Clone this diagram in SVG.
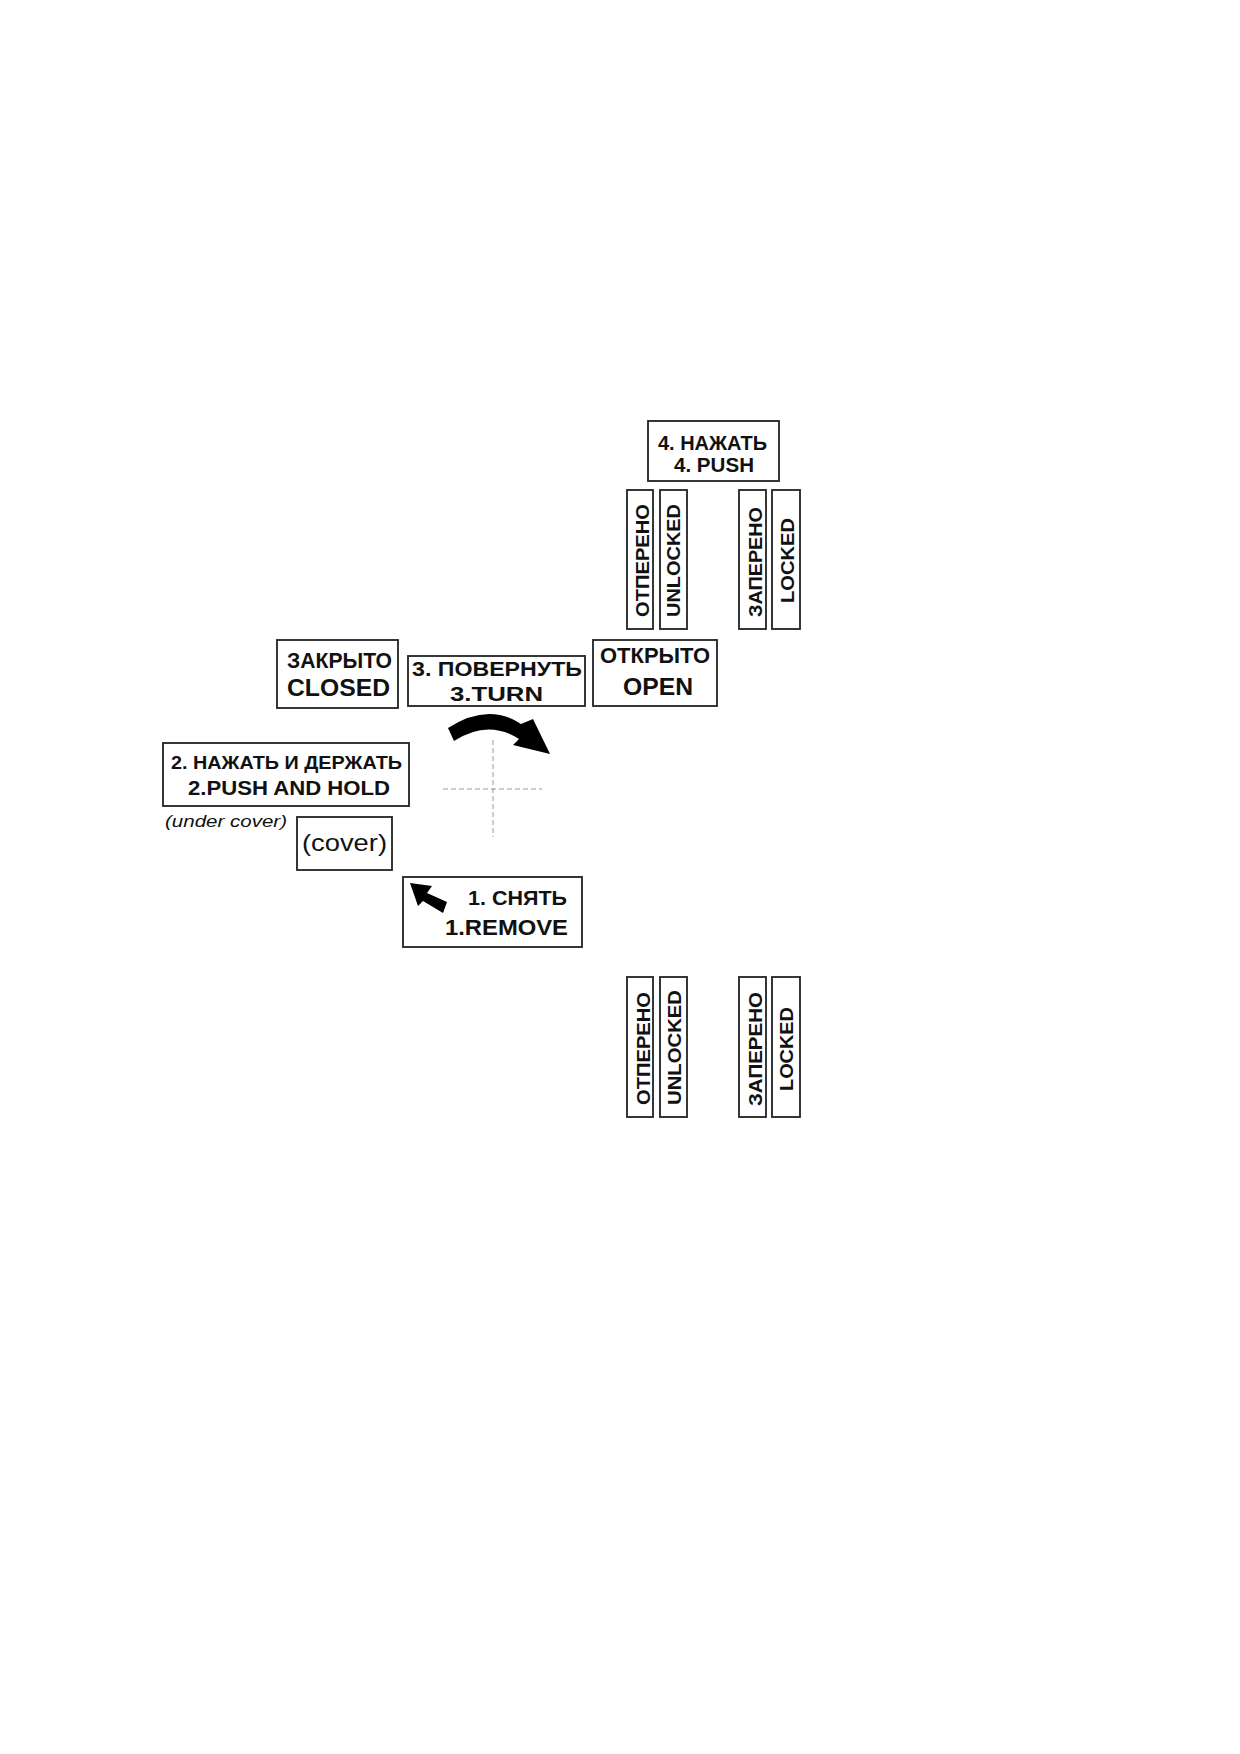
<svg xmlns="http://www.w3.org/2000/svg" width="1240" height="1754" viewBox="0 0 1240 1754">
<style>
.box{fill:#fff;stroke:#222;stroke-width:1.8}
.t{font-family:"Liberation Sans",Arial,sans-serif;font-weight:bold;fill:#111}
.r{font-family:"Liberation Sans",Arial,sans-serif;fill:#111}
.dash{stroke:#999;stroke-width:1;stroke-dasharray:5,3;fill:none}
</style>
<rect width="1240" height="1754" fill="#fff"/>
<g id="push4">
<rect class="box" x="648" y="421" width="131" height="60"/>
<text class="t" x="658" y="450" font-size="20" textLength="109" lengthAdjust="spacingAndGlyphs">4. НАЖАТЬ</text>
<text class="t" x="674" y="472" font-size="20" textLength="80" lengthAdjust="spacingAndGlyphs">4. PUSH</text>
</g>
<g id="top-unlocked-ru">
<rect class="box" x="627" y="490" width="26" height="139"/>
<text class="t" transform="translate(649,617) rotate(-90)" font-size="19" textLength="113" lengthAdjust="spacingAndGlyphs">ОТПЕРЕНО</text>
</g>
<g id="top-unlocked-en">
<rect class="box" x="660" y="490" width="27" height="139"/>
<text class="t" transform="translate(680,617) rotate(-90)" font-size="19" textLength="113" lengthAdjust="spacingAndGlyphs">UNLOCKED</text>
</g>
<g id="top-locked-ru">
<rect class="box" x="739" y="490" width="27" height="139"/>
<text class="t" transform="translate(762,617) rotate(-90)" font-size="19" textLength="110" lengthAdjust="spacingAndGlyphs">ЗАПЕРЕНО</text>
</g>
<g id="top-locked-en">
<rect class="box" x="772" y="490" width="28" height="139"/>
<text class="t" transform="translate(794,603) rotate(-90)" font-size="19" textLength="85" lengthAdjust="spacingAndGlyphs">LOCKED</text>
</g>
<g id="closed">
<rect class="box" x="277" y="640" width="121" height="68"/>
<text class="t" x="287" y="668" font-size="22" textLength="105" lengthAdjust="spacingAndGlyphs">ЗАКРЫТО</text>
<text class="t" x="287" y="696" font-size="23" textLength="103" lengthAdjust="spacingAndGlyphs">CLOSED</text>
</g>
<g id="turn3">
<rect class="box" x="408" y="656" width="177" height="50"/>
<text class="t" x="412" y="676" font-size="20" textLength="170" lengthAdjust="spacingAndGlyphs">3. ПОВЕРНУТЬ</text>
<text class="t" x="450" y="701" font-size="21" textLength="93" lengthAdjust="spacingAndGlyphs">3.TURN</text>
</g>
<g id="open">
<rect class="box" x="593" y="640" width="124" height="66"/>
<text class="t" x="600" y="663" font-size="22" textLength="110" lengthAdjust="spacingAndGlyphs">ОТКРЫТО</text>
<text class="t" x="623" y="695" font-size="23" textLength="70" lengthAdjust="spacingAndGlyphs">OPEN</text>
</g>
<g id="pushhold2">
<rect class="box" x="163" y="743" width="246" height="63"/>
<text class="t" x="171" y="769" font-size="19" textLength="231" lengthAdjust="spacingAndGlyphs">2. НАЖАТЬ И ДЕРЖАТЬ</text>
<text class="t" x="188" y="795" font-size="20" textLength="202" lengthAdjust="spacingAndGlyphs">2.PUSH AND HOLD</text>
</g>
<g id="undercover">
<text class="r" x="165" y="827" font-size="16" font-style="italic" textLength="122" lengthAdjust="spacingAndGlyphs">(under cover)</text>
</g>
<g id="cover">
<rect class="box" x="297" y="817" width="95" height="53"/>
<text class="r" x="302" y="851" font-size="24" textLength="85" lengthAdjust="spacingAndGlyphs">(cover)</text>
</g>
<g id="remove1">
<rect class="box" x="403" y="877" width="179" height="70"/>
<text class="t" x="468" y="905" font-size="20" textLength="99" lengthAdjust="spacingAndGlyphs">1. СНЯТЬ</text>
<text class="t" x="445" y="935" font-size="22" textLength="123" lengthAdjust="spacingAndGlyphs">1.REMOVE</text>
<path d="M410,883 L432,886 L427,893 L447,902 L443,913 L423,901 L418,906 Z" fill="#000"/>
</g>
<g id="bottom-unlocked-ru">
<rect class="box" x="627" y="977" width="26" height="140"/>
<text class="t" transform="translate(650,1105) rotate(-90)" font-size="19" textLength="113" lengthAdjust="spacingAndGlyphs">ОТПЕРЕНО</text>
</g>
<g id="bottom-unlocked-en">
<rect class="box" x="660" y="977" width="27" height="140"/>
<text class="t" transform="translate(681,1105) rotate(-90)" font-size="19" textLength="115" lengthAdjust="spacingAndGlyphs">UNLOCKED</text>
</g>
<g id="bottom-locked-ru">
<rect class="box" x="739" y="977" width="27" height="140"/>
<text class="t" transform="translate(762,1106) rotate(-90)" font-size="19" textLength="114" lengthAdjust="spacingAndGlyphs">ЗАПЕРЕНО</text>
</g>
<g id="bottom-locked-en">
<rect class="box" x="772" y="977" width="28" height="140"/>
<text class="t" transform="translate(793,1091) rotate(-90)" font-size="19" textLength="84" lengthAdjust="spacingAndGlyphs">LOCKED</text>
</g>
<g id="connectors">
<line class="dash" x1="443" y1="789" x2="542" y2="789"/>
<line class="dash" x1="493" y1="740" x2="493" y2="837"/>
<path d="M448,728 Q488,702 521,724 L533,719 L550,754 L513,745 L519,739 Q488,719 454,741 Z" fill="#000"/>
</g>
</svg>
